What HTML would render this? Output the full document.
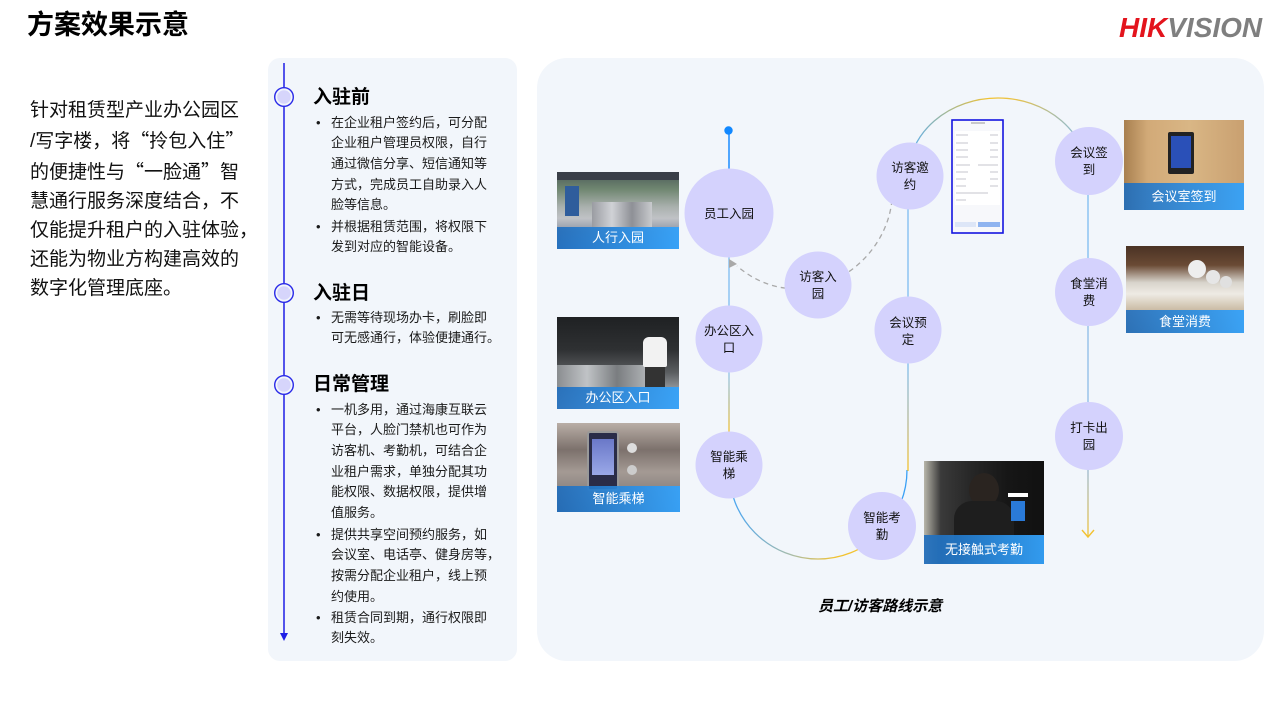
<!DOCTYPE html>
<html><head><meta charset="utf-8">
<style>
*{margin:0;padding:0;box-sizing:border-box}
html,body{width:1280px;height:720px;overflow:hidden;background:#fff}
body{position:relative;font-family:"Liberation Sans","Noto Sans CJK SC",sans-serif;color:#111}
.abs{position:absolute}
.title{left:27px;top:11px;font-size:27px;line-height:29px;font-weight:bold;color:#000;white-space:nowrap}
.logo{left:1119px;top:14px;font-size:28px;line-height:28px;font-weight:bold;font-style:italic;white-space:nowrap;letter-spacing:0}
.intro{left:30px;top:95.5px;font-size:19px;line-height:29px;color:#111;white-space:nowrap}
.q{font-family:"Noto Sans CJK SC",sans-serif}
.panel{background:#f2f6fb}
.h{left:313px;font-size:19px;line-height:24px;font-weight:bold;color:#000;white-space:nowrap}
.b{left:316px;font-size:13px;line-height:20.7px;color:#1a1a1a;white-space:nowrap;padding-left:15px}
.b::before{content:"•";position:absolute;left:0;top:0}
.photo{position:absolute;overflow:hidden}
.cap{position:absolute;left:0;right:0;bottom:0;color:#fff;font-size:13px;text-align:center;background:linear-gradient(90deg,rgba(28,108,190,0.88),rgba(52,162,250,0.95))}
.cl{font-size:15px;font-weight:bold;font-style:italic;left:818px;top:595px;white-space:nowrap;color:#000}
</style></head><body>

<div class="abs title">方案效果示意</div>
<div class="abs logo"><span style="color:#e3141d">HIK</span><span style="color:#7f7f7f">VISION</span></div>

<div class="abs intro">针对租赁型产业办公园区<br>/写字楼，将<span class="q">“</span>拎包入住<span class="q">”</span><br>的便捷性与<span class="q">“</span>一脸通<span class="q">”</span>智<br>慧通行服务深度结合，不<br>仅能提升租户的入驻体验，<br>还能为物业方构建高效的<br>数字化管理底座。</div>

<div class="abs panel" style="left:268px;top:58px;width:249px;height:603px;border-radius:12px"></div>
<div class="abs panel" style="left:537px;top:58px;width:727px;height:603px;border-radius:30px"></div>

<!-- timeline -->
<svg class="abs" style="left:0;top:0" width="1280" height="720" viewBox="0 0 1280 720">
  <line x1="284" y1="63" x2="284" y2="634" stroke="#1f1fe6" stroke-width="1.5"/>
  <polygon points="280,633 288,633 284,641" fill="#1f1fe6"/>
  <g>
    <circle cx="284" cy="97" r="9.3" fill="#f2f6fb" stroke="#2a2ae8" stroke-width="1.4"/>
    <circle cx="284" cy="97" r="6.8" fill="#d6d5fb"/>
    <circle cx="284" cy="293" r="9.3" fill="#f2f6fb" stroke="#2a2ae8" stroke-width="1.4"/>
    <circle cx="284" cy="293" r="6.8" fill="#d6d5fb"/>
    <circle cx="284" cy="385" r="9.3" fill="#f2f6fb" stroke="#2a2ae8" stroke-width="1.4"/>
    <circle cx="284" cy="385" r="6.8" fill="#d6d5fb"/>
  </g>
</svg>

<div class="abs h" style="top:86px">入驻前</div>
<div class="abs b" style="top:112.6px">在企业租户签约后，可分配<br>企业租户管理员权限，自行<br>通过微信分享、短信通知等<br>方式，完成员工自助录入人<br>脸等信息。</div>
<div class="abs b" style="top:216.6px">并根据租赁范围，将权限下<br>发到对应的智能设备。</div>

<div class="abs h" style="top:282px">入驻日</div>
<div class="abs b" style="top:307.6px">无需等待现场办卡，刷脸即<br>可无感通行，体验便捷通行。</div>

<div class="abs h" style="top:373px">日常管理</div>
<div class="abs b" style="top:399.6px">一机多用，通过海康互联云<br>平台，人脸门禁机也可作为<br>访客机、考勤机，可结合企<br>业租户需求，单独分配其功<br>能权限、数据权限，提供增<br>值服务。</div>
<div class="abs b" style="top:524.6px">提供共享空间预约服务，如<br>会议室、电话亭、健身房等，<br>按需分配企业租户，线上预<br>约使用。</div>
<div class="abs b" style="top:607.6px">租赁合同到期，通行权限即<br>刻失效。</div>

<!-- photos -->
<div class="photo" style="left:557px;top:172px;width:122px;height:77px;background:linear-gradient(180deg,#4b5a58 0%,#6f8670 22%,#a9b0ad 45%,#c0c2c6 60%,#8c95a4 78%,#6a96c4 100%)">
  <div class="abs" style="left:0;top:0;width:122px;height:8px;background:#3a3f48"></div>
  <div class="abs" style="left:8px;top:14px;width:14px;height:30px;background:#2f5d9c"></div>
  <div class="abs" style="left:35px;top:30px;width:60px;height:25px;background:linear-gradient(90deg,#9a9ca2,#d0d2d6,#8e9096,#c8cacd)"></div>
  <div class="cap" style="height:22px;line-height:22px">人行入园</div>
</div>
<div class="photo" style="left:557px;top:317px;width:122px;height:92px;background:linear-gradient(180deg,#1f2123 0%,#2e3032 35%,#5a5d60 60%,#9a9ea2 80%,#b8bcc0 100%)">
  <div class="abs" style="left:0;top:48px;width:90px;height:25px;background:linear-gradient(90deg,#8a8d90,#c0c3c6,#7a7d80,#b0b3b6)"></div>
  <div class="abs" style="left:86px;top:20px;width:24px;height:30px;background:#f2f2f2;border-radius:6px 6px 2px 2px"></div>
  <div class="abs" style="left:88px;top:50px;width:20px;height:20px;background:#333"></div>
  <div class="cap" style="height:22px;line-height:22px">办公区入口</div>
</div>
<div class="photo" style="left:557px;top:423px;width:123px;height:89px;background:linear-gradient(180deg,#b9aea6 0%,#7c716c 30%,#a49a94 55%,#6e6a6a 100%)">
  <div class="abs" style="left:30px;top:8px;width:32px;height:60px;background:#2a2c48;border:2px solid #999;border-radius:3px"></div>
  <div class="abs" style="left:35px;top:16px;width:22px;height:36px;background:linear-gradient(180deg,#6a78c8,#9aa8e8)"></div>
  <div class="abs" style="left:70px;top:20px;width:10px;height:10px;background:#ddd;border-radius:50%"></div>
  <div class="abs" style="left:70px;top:42px;width:10px;height:10px;background:#ccc;border-radius:50%"></div>
  <div class="cap" style="height:26px;line-height:26px">智能乘梯</div>
</div>
<div class="photo" style="left:1124px;top:120px;width:120px;height:90px;background:linear-gradient(90deg,#a88050 0%,#d2aa78 20%,#d9b685 55%,#c9a070 100%)">
  <div class="abs" style="left:44px;top:12px;width:26px;height:42px;background:#222;border-radius:2px"></div>
  <div class="abs" style="left:47px;top:16px;width:20px;height:32px;background:#2a50b8"></div>
  <div class="cap" style="height:27px;line-height:27px">会议室签到</div>
</div>
<div class="photo" style="left:1126px;top:246px;width:118px;height:87px;background:linear-gradient(180deg,#4a3224 0%,#6a4a34 22%,#d8d4cc 42%,#eeebe4 55%,#c8b8a0 75%,#a89070 100%)">
  <div class="abs" style="left:62px;top:14px;width:18px;height:18px;background:#eee;border-radius:50%"></div>
  <div class="abs" style="left:80px;top:24px;width:14px;height:14px;background:#e6e6e6;border-radius:50%"></div>
  <div class="abs" style="left:94px;top:30px;width:12px;height:12px;background:#e0e0e0;border-radius:50%"></div>
  <div class="cap" style="height:23px;line-height:23px">食堂消费</div>
</div>
<div class="photo" style="left:924px;top:461px;width:120px;height:103px;background:linear-gradient(90deg,#b8b6aa 0%,#3a3a3a 14%,#262626 40%,#161616 70%,#111 100%)">
  <div class="abs" style="left:45px;top:12px;width:30px;height:34px;background:#2a2420;border-radius:50%"></div>
  <div class="abs" style="left:30px;top:40px;width:60px;height:60px;background:#1e1e1e;border-radius:18px 18px 0 0"></div>
  <div class="abs" style="left:87px;top:40px;width:14px;height:20px;background:#2a7ad8"></div>
  <div class="abs" style="left:84px;top:32px;width:20px;height:4px;background:#fff"></div>
  <div class="cap" style="height:29px;line-height:29px">无接触式考勤</div>
</div>

<!-- diagram -->
<svg class="abs" style="left:0;top:0" width="1280" height="720" viewBox="0 0 1280 720">
  <defs>
    <linearGradient id="g1" gradientUnits="userSpaceOnUse" x1="0" y1="372" x2="0" y2="432">
      <stop offset="0" stop-color="#8ec3ea"/><stop offset="0.5" stop-color="#b8bc90"/><stop offset="1" stop-color="#f1c132"/>
    </linearGradient>
    <linearGradient id="g2" gradientUnits="userSpaceOnUse" x1="0" y1="363" x2="0" y2="470">
      <stop offset="0" stop-color="#7cbcf0"/><stop offset="0.55" stop-color="#b6b894"/><stop offset="1" stop-color="#f3c12a"/>
    </linearGradient>
    <linearGradient id="g3" gradientUnits="userSpaceOnUse" x1="729" y1="0" x2="908" y2="0">
      <stop offset="0" stop-color="#45a4f5"/><stop offset="0.35" stop-color="#a9bca8"/><stop offset="0.6" stop-color="#f2c230"/><stop offset="0.9" stop-color="#f2c230"/><stop offset="0.95" stop-color="#3aa0f5"/><stop offset="1" stop-color="#3aa0f5"/>
    </linearGradient>
    <linearGradient id="g4" gradientUnits="userSpaceOnUse" x1="908" y1="0" x2="1088" y2="0">
      <stop offset="0" stop-color="#5aaef2"/><stop offset="0.45" stop-color="#f2c230"/><stop offset="0.6" stop-color="#e8c24a"/><stop offset="1" stop-color="#7ab8ee"/>
    </linearGradient>
    <linearGradient id="g5" gradientUnits="userSpaceOnUse" x1="0" y1="469" x2="0" y2="538">
      <stop offset="0" stop-color="#9ab8d2"/><stop offset="1" stop-color="#f2c232"/>
    </linearGradient>
  </defs>

  <g fill="none" stroke-width="1.3">
    <line x1="729" y1="130" x2="729" y2="170" stroke="#1a8cff" stroke-width="1.5"/>
    <line x1="729" y1="257" x2="729" y2="307" stroke="#7dbdf0"/>
    <line x1="729" y1="372" x2="729" y2="432" stroke="url(#g1)"/>
    <path d="M729 470 A89 89 0 0 0 907 470" stroke="url(#g3)"/>
    <line x1="908" y1="363" x2="908" y2="471" stroke="url(#g2)"/>
    <line x1="908" y1="209" x2="908" y2="297" stroke="#7dbdf0"/>
    <path d="M908 176 A90 78 0 0 1 1088 176" stroke="url(#g4)"/>
    <line x1="1088" y1="195" x2="1088" y2="258" stroke="#7dbdf0"/>
    <line x1="1088" y1="326" x2="1088" y2="402" stroke="#8dbde6"/>
    <line x1="1088" y1="469" x2="1088" y2="537" stroke="url(#g5)"/>
    <polyline points="1082,530 1088,537 1094,530" stroke="#f2c232" stroke-width="1.4"/>
    <path d="M892 200 C885 270 800 320 737 266" stroke="#a9a9a9" stroke-dasharray="5 4"/>
  </g>
  <polygon points="729,259 729,268 737,264" fill="#a9a9a9"/>
  <circle cx="728.5" cy="130.5" r="4.2" fill="#1188ff"/>

  <g fill="#d4d2fd">
    <circle cx="729" cy="213" r="44.5"/>
    <circle cx="818" cy="285" r="33.5"/>
    <circle cx="729" cy="339" r="33.5"/>
    <circle cx="729" cy="465" r="33.5"/>
    <circle cx="882" cy="526" r="34"/>
    <circle cx="910" cy="176" r="33.5"/>
    <circle cx="908" cy="330" r="33.5"/>
    <circle cx="1089" cy="161" r="34"/>
    <circle cx="1089" cy="292" r="34"/>
    <circle cx="1089" cy="436" r="34"/>
  </g>

  <g font-family="Liberation Sans, Noto Sans CJK SC, sans-serif" font-size="12.5" fill="#111" text-anchor="middle">
    <text x="729" y="218">员工入园</text>
    <text x="818" y="281">访客入</text><text x="818" y="298">园</text>
    <text x="729" y="335">办公区入</text><text x="729" y="352">口</text>
    <text x="729" y="461">智能乘</text><text x="729" y="478">梯</text>
    <text x="882" y="522">智能考</text><text x="882" y="539">勤</text>
    <text x="910" y="172">访客邀</text><text x="910" y="189">约</text>
    <text x="908" y="327">会议预</text><text x="908" y="344">定</text>
    <text x="1089" y="157">会议签</text><text x="1089" y="174">到</text>
    <text x="1089" y="288">食堂消</text><text x="1089" y="305">费</text>
    <text x="1089" y="432">打卡出</text><text x="1089" y="449">园</text>
  </g>

  <!-- phone screenshot -->
  <g>
    <rect x="952" y="120" width="51" height="113" fill="#f7f8fb" stroke="#1414e0" stroke-width="1.6"/>
    <rect x="955" y="131" width="45" height="74" fill="#ffffff"/>
    <g stroke="#c4c6cc" stroke-width="1">
      <line x1="956" y1="135" x2="968" y2="135"/><line x1="990" y1="135" x2="998" y2="135"/>
      <line x1="956" y1="143" x2="968" y2="143"/><line x1="990" y1="143" x2="998" y2="143"/>
      <line x1="956" y1="150" x2="968" y2="150"/><line x1="990" y1="150" x2="998" y2="150"/>
      <line x1="956" y1="157" x2="968" y2="157"/><line x1="990" y1="157" x2="998" y2="157"/>
      <line x1="956" y1="165" x2="970" y2="165"/><line x1="978" y1="165" x2="998" y2="165"/>
      <line x1="956" y1="172" x2="968" y2="172"/><line x1="990" y1="172" x2="998" y2="172"/>
      <line x1="956" y1="179" x2="966" y2="179"/><line x1="990" y1="179" x2="998" y2="179"/>
      <line x1="956" y1="186" x2="966" y2="186"/><line x1="990" y1="186" x2="998" y2="186"/>
      <line x1="956" y1="193" x2="988" y2="193"/>
      <line x1="956" y1="200" x2="966" y2="200"/>
    </g>
    <rect x="955" y="222" width="21" height="5" fill="#dde6f7"/>
    <rect x="978" y="222" width="22" height="5" fill="#8fb4f0"/>
    <line x1="971" y1="123" x2="985" y2="123" stroke="#999" stroke-width="1"/>
  </g>
</svg>

<div class="abs cl">员工/访客路线示意</div>

</body></html>
